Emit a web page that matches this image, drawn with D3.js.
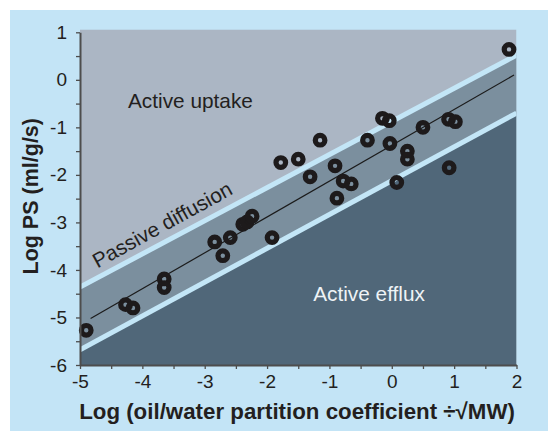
<!DOCTYPE html>
<html>
<head>
<meta charset="utf-8">
<script src="https://cdn.jsdelivr.net/npm/d3@7"></script>
<style>
  html, body { margin: 0; padding: 0; background: #fff; }
  svg { display: block; }
</style>
</head>
<body>
<svg></svg>
<script>
'use strict'

const width = 548
const height = 431

// log(oil/water partition coefficient / sqrt(MW)) vs log PS
const xValues = [-4.90, -4.27, -4.15, -3.65, -3.65, -2.84, -2.71, -2.59, -2.39, -2.32, -2.24, -1.92,
  -1.78, -1.50, -1.31, -1.15, -0.91, -0.78, -0.65, -0.88, -0.39, -0.15, -0.04, -0.03, 0.25, 0.25,
  0.08, 0.50, 0.91, 1.02, 0.92, 1.88]
const yValues = [-5.27, -4.73, -4.80, -4.19, -4.37, -3.41, -3.70, -3.32, -3.04, -2.99, -2.87, -3.32,
  -1.74, -1.67, -2.04, -1.27, -1.81, -2.13, -2.19, -2.49, -1.27, -0.81, -0.86, -1.34, -1.50, -1.67,
  -2.16, -1.00, -0.83, -0.88, -1.85, 0.64]

// passive diffusion band edges and fitted line (x, y end points)
const upperEdge = [[-5, -4.36], [2, 0.52]]
const lowerEdge = [[-5, -5.68], [2, -0.70]]
const fitLine = [[-4.83, -5.02], [1.96, 0.10]]

const xDomain = [-5, 2]
const yDomain = [-6, 1]
const plotTopValue = 1.06
const xTicks = d3.range(-5, 2.01, 0.5)
const yTicks = d3.range(-6, 1.01, 0.5)

const regionLabels = [
  { text: 'Active uptake', x: -4.23, y: -0.59, color: '#231f20' },
  { text: 'Active efflux', x: -1.26, y: -4.65, color: '#eef3f6' }
]

const font = '"Liberation Sans", Arial, Helvetica, sans-serif'

const svg = d3.select('svg')
  .attr('width', width)
  .attr('height', height)
  .attr('font-family', font)

const x = d3.scaleLinear().domain(xDomain).range([80, 516.5])
const y = d3.scaleLinear().domain(yDomain).range([365, 32.3])

// light blue panel
svg.append('rect')
  .attr('x', 10).attr('y', 10)
  .attr('width', width - 10).attr('height', height - 10)
  .attr('fill', '#c3e4f6')

svg.append('clipPath').attr('id', 'plot-clip')
  .append('rect')
  .attr('x', x(xDomain[0])).attr('y', y(plotTopValue))
  .attr('width', x(xDomain[1]) - x(xDomain[0]))
  .attr('height', y(yDomain[0]) - y(plotTopValue))

const plot = svg.append('g').attr('clip-path', 'url(#plot-clip)')

const toPx = p => [x(p[0]), y(p[1])]
const corner = (xv, yv) => [x(xv), y(yv)]

// upper region (active uptake)
plot.append('rect')
  .attr('x', x(xDomain[0])).attr('y', y(plotTopValue))
  .attr('width', x(xDomain[1]) - x(xDomain[0]))
  .attr('height', y(yDomain[0]) - y(plotTopValue))
  .attr('fill', '#abb6c4')

// passive band
plot.append('polygon')
  .attr('points', [toPx(upperEdge[0]), toPx(upperEdge[1]), toPx(lowerEdge[1]), toPx(lowerEdge[0])]
    .map(p => p.join(',')).join(' '))
  .attr('fill', '#7b8f9e')

// lower region (active efflux)
plot.append('polygon')
  .attr('points', [toPx(lowerEdge[0]), toPx(lowerEdge[1]), corner(xDomain[1], yDomain[0] - 1), corner(xDomain[0], yDomain[0] - 1)]
    .map(p => p.join(',')).join(' '))
  .attr('fill', '#506779')

const line = d3.line().x(d => x(d[0])).y(d => y(d[1]))

plot.selectAll('path.edge')
  .data([upperEdge, lowerEdge])
  .enter().append('path')
  .attr('class', 'edge')
  .attr('d', line)
  .attr('stroke', '#c3e6f7')
  .attr('stroke-width', 5)
  .attr('fill', 'none')

plot.append('path')
  .attr('d', line(fitLine))
  .attr('stroke', '#1b1b1b')
  .attr('stroke-width', 1.2)
  .attr('fill', 'none')

// region labels
svg.selectAll('text.region')
  .data(regionLabels)
  .enter().append('text')
  .attr('class', 'region')
  .attr('x', d => x(d.x))
  .attr('y', d => y(d.y))
  .attr('fill', d => d.color)
  .attr('font-size', 20.8)
  .text(d => d.text)

const angle = Math.atan2(y(upperEdge[1][1]) - y(upperEdge[0][1]), x(upperEdge[1][0]) - x(upperEdge[0][0])) * 180 / Math.PI
svg.append('text')
  .attr('transform', `translate(${x(-4.72)},${y(-3.97)}) rotate(${angle - 0.8})`)
  .attr('fill', '#231f20')
  .attr('font-size', 20.8)
  .text('Passive diffusion')

// data points
const points = xValues.map((v, i) => ({ x: v, y: yValues[i] }))
svg.append('g')
  .selectAll('circle')
  .data(points)
  .enter().append('circle')
  .attr('cx', d => x(d.x))
  .attr('cy', d => y(d.y))
  .attr('r', 4.8)
  .attr('fill', 'none')
  .attr('stroke', '#1d1a1b')
  .attr('stroke-width', 5.2)

// axes
const fmt = d => Number.isInteger(d) ? String(d) : ''

const xAxis = svg.append('g')
  .attr('transform', `translate(0,${y(yDomain[0])})`)
  .call(d3.axisBottom(x).tickValues(xTicks).tickFormat(fmt).tickSize(4).tickSizeOuter(0).tickPadding(6))

const yAxis = svg.append('g')
  .attr('transform', `translate(${x(xDomain[0])},0)`)
  .call(d3.axisLeft(y).tickValues(yTicks).tickFormat(fmt).tickSize(4).tickSizeOuter(0).tickPadding(9))

for (const ax of [xAxis, yAxis]) {
  ax.select('.domain').attr('stroke', '#4d4d4d').attr('stroke-width', 2)
  ax.selectAll('.tick line').attr('stroke', '#4d4d4d').attr('stroke-width', 1.3)
  ax.selectAll('.tick text')
    .attr('font-family', font)
    .attr('font-size', 19)
    .attr('fill', '#231f20')
}

// axis titles
svg.append('text')
  .attr('x', 297)
  .attr('y', 419)
  .attr('text-anchor', 'middle')
  .attr('font-size', 22.3)
  .attr('font-weight', 'bold')
  .attr('fill', '#231f20')
  .text('Log (oil/water partition coefficient ÷√MW)')

svg.append('text')
  .attr('transform', `translate(38,${y(-2.45)}) rotate(-90)`)
  .attr('text-anchor', 'middle')
  .attr('font-size', 21.5)
  .attr('font-weight', 'bold')
  .attr('fill', '#231f20')
  .text('Log PS (ml/g/s)')
</script>
</body>
</html>
